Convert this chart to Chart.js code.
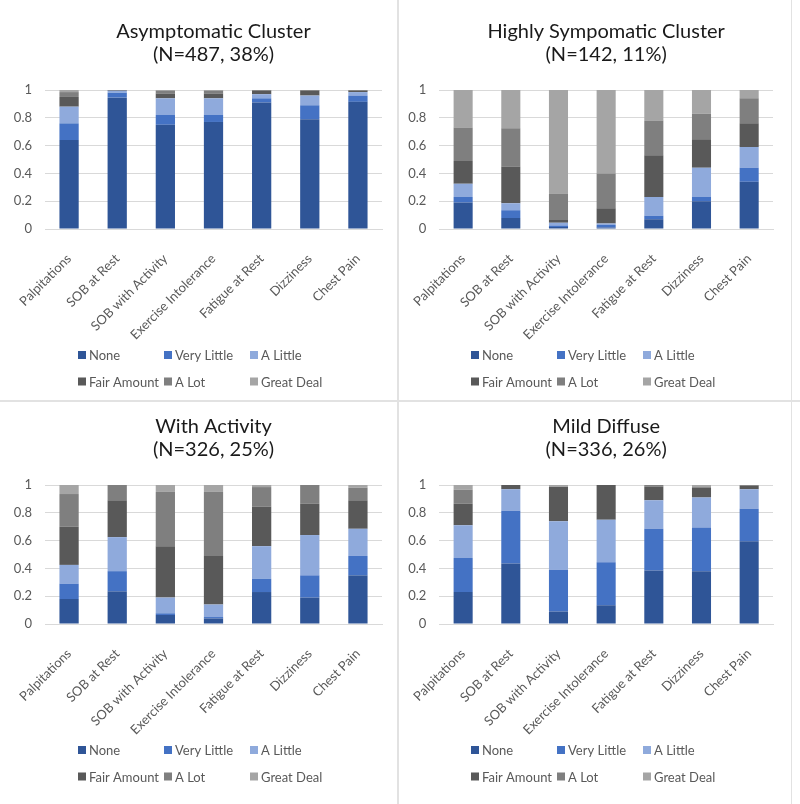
<!DOCTYPE html>
<html>
<head>
<meta charset="utf-8">
<script src="https://cdn.jsdelivr.net/npm/chart.js@4.4.1/dist/chart.umd.min.js"></script>
<style>
  body { margin: 0; background: #fff; }
  #page { position: relative; width: 800px; height: 804px; overflow: hidden; }
  .panel { position: absolute; }
  .line { position: absolute; background: #e2e2e2; }
</style>
</head>
<body>
<div id="page">
  <div class="panel" style="left:0;top:0"><canvas id="c1" width="397" height="401"></canvas></div>
  <div class="panel" style="left:399px;top:0"><canvas id="c2" width="391" height="401"></canvas></div>
  <div class="panel" style="left:0;top:402px"><canvas id="c3" width="397" height="402"></canvas></div>
  <div class="panel" style="left:399px;top:402px"><canvas id="c4" width="391" height="402"></canvas></div>
  <div class="line" style="left:397px;top:0;width:2px;height:804px"></div>
  <div class="line" style="left:0;top:400px;width:800px;height:2px"></div>
  <div class="line" style="left:791px;top:0;width:1px;height:804px"></div>
</div>
<script>
const symptoms = ['Palpitations', 'SOB at Rest', 'SOB with Activity', 'Exercise Intolerance', 'Fatigue at Rest', 'Dizziness', 'Chest Pain'];
const levels = ['None', 'Very Little', 'A Little', 'Fair Amount', 'A Lot', 'Great Deal'];
const levelColors = ['#2f5597', '#4472c4', '#8faadc', '#595959', '#7f7f7f', '#a5a5a5'];
const yTicks = [0, 0.2, 0.4, 0.6, 0.8, 1];

// share of each answer level (rows follow `levels`, columns follow `symptoms`)
const asymptomatic = [
  [0.64, 0.945, 0.75, 0.77, 0.91, 0.79, 0.915],
  [0.12, 0.035, 0.07, 0.05, 0.03, 0.10, 0.045],
  [0.12, 0.015, 0.12, 0.12, 0.03, 0.07, 0.025],
  [0.07, 0.005, 0.035, 0.035, 0.025, 0.035, 0.01],
  [0.035, 0, 0.02, 0.02, 0.005, 0.005, 0.005],
  [0.015, 0, 0.005, 0.005, 0, 0, 0]
];
const highlySymptomatic = [
  [0.19, 0.08, 0.015, 0.01, 0.07, 0.20, 0.34],
  [0.04, 0.055, 0.01, 0.02, 0.025, 0.03, 0.10],
  [0.095, 0.05, 0.02, 0.01, 0.135, 0.21, 0.15],
  [0.165, 0.265, 0.02, 0.11, 0.30, 0.205, 0.17],
  [0.24, 0.275, 0.19, 0.25, 0.25, 0.185, 0.18],
  [0.27, 0.275, 0.745, 0.60, 0.22, 0.17, 0.06]
];
const withActivity = [
  [0.18, 0.235, 0.065, 0.04, 0.23, 0.19, 0.35],
  [0.11, 0.145, 0.012, 0.01, 0.095, 0.16, 0.14],
  [0.135, 0.245, 0.113, 0.09, 0.235, 0.29, 0.195],
  [0.275, 0.265, 0.37, 0.35, 0.285, 0.225, 0.205],
  [0.235, 0.11, 0.39, 0.46, 0.14, 0.135, 0.09],
  [0.065, 0, 0.05, 0.05, 0.015, 0, 0.02]
];
const mildDiffuse = [
  [0.23, 0.435, 0.09, 0.135, 0.385, 0.38, 0.595],
  [0.245, 0.38, 0.30, 0.31, 0.30, 0.315, 0.235],
  [0.235, 0.155, 0.35, 0.305, 0.205, 0.215, 0.14],
  [0.155, 0.03, 0.245, 0.25, 0.10, 0.07, 0.025],
  [0.10, 0, 0.005, 0, 0.01, 0.01, 0.005],
  [0.035, 0, 0.01, 0, 0, 0.01, 0]
];

// legend laid out in a 3-column grid like the original
const gridLegend = {
  id: 'gridLegend',
  afterDraw(chart, args, opts) {
    const ctx = chart.ctx;
    ctx.save();
    ctx.font = '13px Lato';
    ctx.textBaseline = 'middle';
    ctx.textAlign = 'left';
    chart.data.datasets.forEach((ds, i) => {
      const x = opts.x + (i % 3) * opts.colWidth;
      const y = opts.y + Math.floor(i / 3) * opts.rowHeight;
      ctx.fillStyle = ds.backgroundColor;
      ctx.fillRect(x, y - 4, 8, 8);
      ctx.fillStyle = '#595959';
      ctx.fillText(ds.label, x + 11, y + 1);
    });
    ctx.restore();
  }
};

function makeChart(id, title, values, p) {
  const datasets = levels.map((lvl, i) => ({
    label: lvl,
    data: values[i],
    backgroundColor: levelColors[i],
    barPercentage: 0.4,
    categoryPercentage: 1
  }));
  return new Chart(document.getElementById(id), {
    type: 'bar',
    data: { labels: symptoms, datasets: datasets },
    plugins: [gridLegend],
    options: {
      responsive: false,
      animation: false,
      layout: { padding: { left: 0, right: p.right, top: 0, bottom: p.bottom } },
      scales: {
        x: {
          stacked: true,
          grid: { display: false },
          border: { display: true, color: '#d9d9d9' },
          ticks: { color: '#595959', font: { family: 'Lato', size: 13 }, minRotation: 45, maxRotation: 45, padding: 14 },
          afterFit: s => { s.height = 112; }
        },
        y: {
          stacked: true,
          min: 0,
          max: 1,
          grid: { color: '#d9d9d9', drawTicks: false },
          border: { display: false },
          afterBuildTicks: s => { s.ticks = yTicks.map(v => ({ value: v })); },
          ticks: {
            color: '#595959',
            font: { family: 'Lato', size: 13 },
            padding: 13,
            callback: v => String(Math.round(v * 10) / 10)
          },
          afterFit: s => { s.width = p.yWidth; }
        }
      },
      plugins: {
        legend: { display: false },
        tooltip: { enabled: false },
        title: {
          display: true,
          text: title,
          fullSize: false,
          color: '#1a1a1a',
          font: { family: 'Lato', size: 20, weight: 'normal', lineHeight: 1.15 },
          padding: { top: p.titleTop, bottom: 24 }
        },
        gridLegend: { x: p.legendX, y: p.legendY, colWidth: 86, rowHeight: 26.5 }
      }
    }
  });
}

makeChart('c1', ['Asymptomatic Cluster', '(N=487, 38%)'], asymptomatic,
  { right: 15, bottom: 60, yWidth: 45, titleTop: 20, legendX: 78, legendY: 355 });
makeChart('c2', ['Highly Sympomatic Cluster', '(N=142, 11%)'], highlySymptomatic,
  { right: 17, bottom: 60, yWidth: 39, titleTop: 20, legendX: 72, legendY: 355 });
makeChart('c3', ['With Activity', '(N=326, 25%)'], withActivity,
  { right: 15, bottom: 68, yWidth: 45, titleTop: 13, legendX: 78, legendY: 348 });
makeChart('c4', ['Mild Diffuse', '(N=336, 26%)'], mildDiffuse,
  { right: 17, bottom: 68, yWidth: 39, titleTop: 13, legendX: 72, legendY: 348 });
</script>
</body>
</html>
